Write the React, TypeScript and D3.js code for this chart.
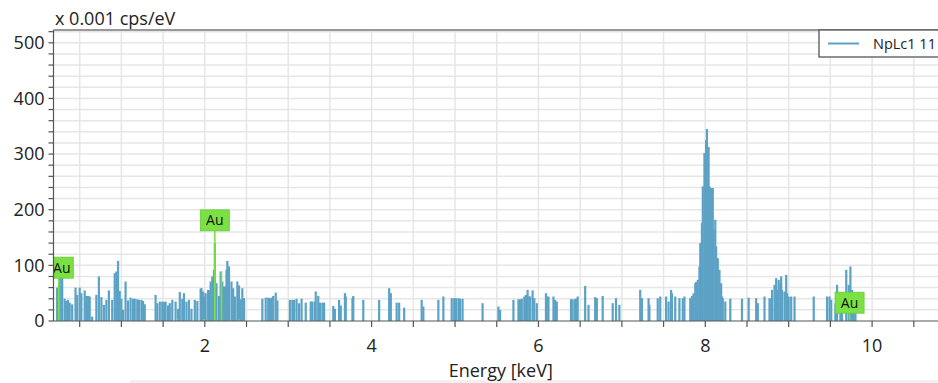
import React from "react";
import * as d3 from "d3";

// ---- data ----
const seriesName = "NpLc1 11";
const yAxisTitle = "x 0.001 cps/eV";
const xAxisTitle = "Energy [keV]";
const yTickValues = [0, 100, 200, 300, 400, 500];
const xTickValues = [2, 4, 6, 8, 10];

// [energy keV, counts (x0.001 cps/eV)]
const spectrum: [number, number][] = [
  [0.23, 60], [0.25, 65], [0.26, 86], [0.28, 77], [0.29, 80], [0.32, 40], [0.34, 36], [0.36, 38], [0.38, 33], [0.41, 30],
  [0.45, 60], [0.47, 47], [0.50, 60], [0.52, 50], [0.56, 55], [0.58, 45], [0.60, 45], [0.62, 44], [0.65, 8],
  [0.70, 47], [0.73, 80], [0.76, 43], [0.79, 29], [0.82, 38], [0.85, 55], [0.89, 38], [0.92, 86], [0.94, 89], [0.96, 108], [0.98, 54],
  [1.00, 40], [1.02, 20], [1.05, 71], [1.08, 37], [1.11, 42], [1.14, 40], [1.16, 40], [1.19, 39], [1.21, 38], [1.24, 38], [1.26, 36], [1.28, 30],
  [1.41, 47], [1.43, 32], [1.46, 35], [1.49, 35], [1.51, 34], [1.53, 35], [1.56, 28], [1.58, 32], [1.61, 38], [1.65, 35], [1.68, 22],
  [1.70, 52], [1.73, 40], [1.75, 50], [1.78, 35], [1.81, 38], [1.84, 22], [1.88, 38], [1.91, 36],
  [1.95, 58], [1.96, 59], [1.97, 44], [1.98, 53], [1.99, 44], [2.01, 50], [2.04, 56], [2.06, 55], [2.07, 71], [2.09, 80], [2.11, 92],
  [2.12, 140], [2.14, 68], [2.17, 45], [2.19, 89], [2.21, 71], [2.23, 62], [2.25, 62], [2.26, 92], [2.27, 108], [2.29, 98], [2.32, 71],
  [2.34, 59], [2.36, 44], [2.39, 71], [2.41, 64], [2.43, 39], [2.45, 59], [2.47, 41],
  [2.69, 40], [2.73, 42], [2.76, 42], [2.78, 41], [2.80, 42], [2.82, 45], [2.85, 51], [2.87, 37],
  [3.02, 38], [3.05, 38], [3.07, 38], [3.10, 40], [3.13, 32], [3.16, 40], [3.21, 33], [3.27, 35], [3.29, 35], [3.32, 35], [3.33, 53],
  [3.36, 45], [3.38, 33], [3.41, 33], [3.43, 33],
  [3.54, 27], [3.56, 22], [3.61, 38], [3.63, 28], [3.68, 50], [3.69, 44], [3.77, 41], [3.78, 45],
  [3.90, 38], [4.09, 38], [4.21, 59], [4.23, 50], [4.30, 33], [4.33, 33], [4.39, 24], [4.60, 38], [4.62, 26], [4.80, 38], [4.86, 44],
  [4.96, 41], [4.99, 41], [5.01, 41], [5.04, 41], [5.06, 40], [5.09, 40], [5.33, 32], [5.52, 26], [5.54, 20],
  [5.70, 38], [5.76, 39], [5.78, 39], [5.80, 40], [5.83, 44], [5.85, 47], [5.87, 56], [5.89, 44], [5.90, 44], [5.93, 55], [5.95, 41], [5.98, 32],
  [6.09, 50], [6.10, 44], [6.12, 44], [6.18, 44], [6.20, 38], [6.22, 35], [6.39, 39], [6.40, 39], [6.43, 39], [6.45, 40], [6.47, 44],
  [6.56, 63], [6.60, 29], [6.68, 43], [6.70, 41], [6.77, 45], [6.89, 32], [6.93, 41], [6.97, 29],
  [7.22, 56], [7.24, 41], [7.32, 41], [7.33, 29], [7.43, 41], [7.46, 44], [7.53, 44], [7.56, 35], [7.59, 56], [7.60, 50], [7.64, 44],
  [7.69, 41], [7.73, 41], [7.75, 44],
  [7.82, 41], [7.84, 45], [7.86, 50], [7.88, 68], [7.89, 70], [7.91, 74], [7.93, 98], [7.94, 140], [7.96, 176], [7.97, 242], [7.99, 302],
  [8.01, 325], [8.02, 345], [8.04, 313], [8.05, 242], [8.07, 239], [8.08, 220], [8.09, 239], [8.10, 164], [8.12, 182], [8.13, 134],
  [8.15, 113], [8.17, 92], [8.19, 68], [8.20, 44], [8.21, 41],
  [8.24, 35], [8.30, 40], [8.44, 40], [8.52, 42], [8.61, 41], [8.63, 32], [8.71, 44], [8.77, 41], [8.79, 41], [8.80, 56], [8.83, 65],
  [8.85, 77], [8.86, 56], [8.88, 74], [8.90, 68], [8.91, 80], [8.92, 56], [8.95, 53], [8.97, 83], [8.98, 50], [9.00, 44], [9.03, 44], [9.07, 44],
  [9.30, 44], [9.46, 44], [9.49, 44], [9.51, 38], [9.56, 32], [9.58, 65], [9.62, 38], [9.64, 38], [9.69, 92], [9.72, 65], [9.74, 98],
  [9.76, 56], [9.78, 14], [9.80, 14],
];

// element marker lines (Au) : energy, height
const markerEnergies = [0.25, 1.67, 1.99, 2.12, 2.2, 2.41, 9.73];
const markerHeights = [77, 3, 3, 162, 89, 3, 14];
const markerLabels = ["Au", "", "", "Au", "", "", "Au"];

// ---- layout ----
const W = 938;
const H = 383;
const plotLeft = 53.5;
const plotRight = 938;
const plotTop = 30;
const plotBottom = 321;

const BAR = "#5ca2c5";
const GREEN = "#7be043";

export default function App() {
  const x = d3.scaleLinear().domain([0.186, 10.79]).range([plotLeft, plotRight]);
  const y = d3.scaleLinear().domain([0, 523]).range([plotBottom, plotTop]);

  const yMinor = d3.range(0, 521, 20);
  const xMinor = d3.range(0.5, 10.8, 0.5);

  const font = "'Open Sans', 'DejaVu Sans', sans-serif";

  return (
    <svg width={W} height={H} style={{ position: "absolute", left: 0, top: 0, background: "#fff" }}>
      <defs>
        <clipPath id="plotClip">
          <rect x={plotLeft} y={plotTop} width={plotRight - plotLeft} height={plotBottom - plotTop} />
        </clipPath>
      </defs>
      <rect x={0} y={0} width={W} height={H} fill="#fff" />
      <rect x={130} y={380} width={W - 130} height={3} fill="#f1f1f1" />

      {/* grid */}
      <g stroke="#e6e6e6" strokeWidth={1.5}>
        {yMinor.filter((v) => v > 0).map((v) => (
          <line key={"gy" + v} x1={plotLeft} x2={plotRight} y1={y(v)} y2={y(v)} />
        ))}
        {xMinor.map((v) => (
          <line key={"gx" + v} x1={x(v)} x2={x(v)} y1={plotTop} y2={plotBottom} />
        ))}
      </g>

      {/* bars */}
      <g clipPath="url(#plotClip)">
        {spectrum.map(([e, c], i) => (
          <rect key={"b" + i} x={x(e) - 1.1} width={2.2} y={y(c)} height={y(0) - y(c)} fill={BAR} />
        ))}
        {markerEnergies.map((e, i) => (
          <line key={"m" + i} x1={x(e)} x2={x(e)} y1={y(0)} y2={y(markerHeights[i])} stroke={GREEN} strokeWidth={1.6} />
        ))}
        {markerEnergies.map((e, i) =>
          markerLabels[i] ? (
            <g key={"ml" + i}>
              <rect x={x(e) - 14.5} y={y(markerHeights[i]) - 21} width={29} height={21} fill={GREEN} stroke="#66cc3a" strokeWidth={0.8} />
              <text x={x(e) + (i === 0 ? 3 : 0)} y={y(markerHeights[i]) - 5.5} textAnchor="middle" fontSize={14} fontFamily={font} fill="#111">
                {markerLabels[i]}
              </text>
            </g>
          ) : null
        )}
      </g>

      {/* axes */}
      <line x1={plotLeft} x2={plotRight} y1={plotTop} y2={plotTop} stroke="#777" strokeWidth={1.3} />
      <line x1={plotLeft} x2={plotLeft} y1={plotTop} y2={plotBottom} stroke="#555" strokeWidth={1.2} />
      <line x1={plotLeft} x2={plotRight} y1={plotBottom} y2={plotBottom} stroke="#555" strokeWidth={1.2} />
      <g stroke="#555" strokeWidth={1.2}>
        {yMinor.map((v) => (
          <line key={"ty" + v} x1={plotLeft - 5} x2={plotLeft} y1={y(v)} y2={y(v)} />
        ))}
        {xMinor.map((v) => (
          <line key={"tx" + v} x1={x(v)} x2={x(v)} y1={plotBottom} y2={plotBottom + 6} />
        ))}
      </g>
      <g fontFamily={font} fontSize={18} fill="#222">
        {yTickValues.map((v) => (
          <text key={"ly" + v} x={plotLeft - 9} y={y(v)} dy="0.35em" textAnchor="end">
            {v}
          </text>
        ))}
        {xTickValues.map((v) => (
          <text key={"lx" + v} x={x(v)} y={352} textAnchor="middle">
            {v}
          </text>
        ))}
        <text x={(plotLeft + plotRight) / 2 + 5} y={377} textAnchor="middle">
          {xAxisTitle}
        </text>
        <text x={55} y={25}>
          {yAxisTitle}
        </text>
      </g>

      {/* legend */}
      <rect x={819} y={plotTop} width={130} height={27} fill="#fff" stroke="#555" strokeWidth={1.3} />
      <line x1={828} x2={859} y1={43.5} y2={43.5} stroke={BAR} strokeWidth={2} />
      <text x={873} y={48.5} fontFamily={font} fontSize={14.5} fill="#222">
        {seriesName}
      </text>
    </svg>
  );
}
